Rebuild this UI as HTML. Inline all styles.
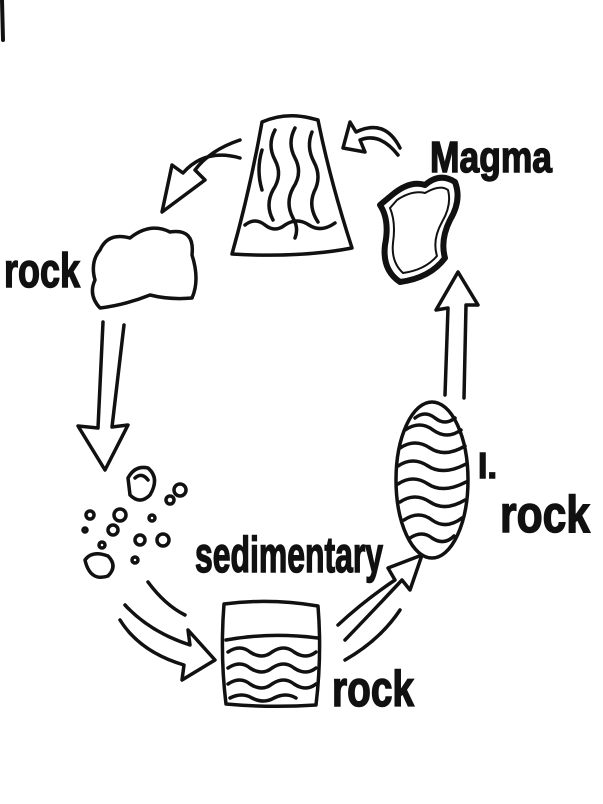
<!DOCTYPE html>
<html><head><meta charset="utf-8"><style>
html,body{margin:0;padding:0;background:#fff;}
svg{display:block;}
text{font-family:"Liberation Sans Narrow","Liberation Sans",sans-serif;font-weight:bold;fill:#111;stroke:#111;stroke-width:1.5;}
</style></head><body>
<svg width="603" height="804" viewBox="0 0 603 804" xmlns="http://www.w3.org/2000/svg">
<g fill="none" stroke="#111" stroke-width="3.5" stroke-linecap="round" stroke-linejoin="round">
<path d="M2 0 L3 40" stroke-width="4"/>
<path d="M262 122 Q285 112 310 118 L318 120 Q330 180 352 248 Q300 258 232 254 Q250 190 262 122 Z"/>
<path d="M275 130 q-8 15 0 30 q8 15 -2 30 q-8 15 0 30"/>
<path d="M295 128 q-8 15 0 30 q8 15 -2 30 q-8 15 0 30 q6 10 2 20"/>
<path d="M312 132 q-6 15 2 30 q8 15 0 30 q-6 15 4 30"/>
<path d="M262 150 q-6 20 0 40"/>
<path d="M245 225 q10 -8 20 0 q10 8 20 0 q12 -8 24 0 q12 8 26 -2"/>
<path d="M240 140 Q210 150 195 170 L205 180 L162 212 L172 165 L183 173 Q205 148 240 158"/>
<path d="M398 155 Q380 132 360 140 L365 152 L343 148 L350 122 L356 132 Q385 118 400 148"/>
<path d="M392 195 Q410 180 425 185 Q440 172 455 182 Q462 200 450 220 Q440 240 445 258 Q430 278 400 282 Q382 270 385 245 Q390 220 380 205 Z" stroke-width="6"/>
<path d="M397 200 Q412 190 425 193 Q440 184 448 190 Q452 205 442 222 Q432 240 437 256 Q425 270 403 273 Q391 262 393 243 Q396 222 390 208 Z" stroke-width="2"/>
<path d="M100 250 Q108 232 130 238 Q150 222 170 232 Q195 228 192 255 Q200 280 192 298 Q170 300 150 295 Q125 305 100 308 Q88 295 95 280 Q90 262 100 250 Z"/>
<path d="M103 322 L98 428 L78 426 L105 470 L128 425 L112 427 L124 325"/>
<path d="M128 478 Q135 465 148 468 Q160 478 150 495 Q140 505 130 495 Z"/>
<path d="M135 478 Q142 472 148 480"/>
<path d="M85 560 Q92 550 108 556 Q118 566 108 576 Q90 582 85 560 Z"/>
<circle cx="90" cy="515" r="4"/><circle cx="120" cy="515" r="6"/><circle cx="113" cy="530" r="5"/>
<circle cx="140" cy="540" r="5"/><circle cx="163" cy="540" r="6"/><circle cx="152" cy="518" r="3"/>
<circle cx="135" cy="560" r="3"/><circle cx="180" cy="490" r="6"/><circle cx="170" cy="500" r="4"/>
<circle cx="102" cy="545" r="3"/><circle cx="85" cy="530" r="2"/>
<path d="M125 605 Q150 632 190 645 L188 630 L215 660 L182 680 L184 665 Q140 652 120 620"/>
<path d="M148 582 Q165 605 185 615"/>
<path d="M224 604 Q270 598 318 606 Q322 655 316 705 Q270 708 226 704 Q220 655 224 604 Z"/>
<path d="M226 640 Q270 632 318 638"/>
<path d="M228 652 q12 -8 22 0 q12 8 22 0 q12 -8 22 0 q12 8 22 0"/>
<path d="M228 668 q12 -8 22 0 q12 8 22 0 q12 -8 22 0 q12 8 22 0"/>
<path d="M228 684 q12 -8 22 0 q12 8 22 0 q12 -8 22 0 q12 8 22 0"/>
<path d="M230 698 q12 -6 22 0 q12 6 22 0 q12 -6 22 0"/>
<path d="M338 625 Q365 600 395 580 L388 568 L422 555 L410 590 L402 580 Q372 612 345 640"/>
<path d="M345 660 Q380 640 400 610"/>
<ellipse cx="432" cy="480" rx="36" ry="78"/>
<path d="M405 430 q15 -10 28 0 q14 10 28 0"/>
<path d="M400 448 q15 -10 30 0 q15 10 35 -2"/>
<path d="M398 466 q15 -10 30 0 q15 10 38 -2"/>
<path d="M398 484 q15 -10 30 0 q15 10 38 -2"/>
<path d="M400 502 q15 -10 30 0 q15 10 35 -2"/>
<path d="M404 520 q15 -10 28 0 q14 10 30 -2"/>
<path d="M410 538 q12 -8 22 0 q12 8 22 -2"/>
<path d="M415 418 q10 -8 20 0 q10 8 20 0"/>
<path d="M445 395 L448 308 L436 310 L458 272 L478 305 L466 305 L464 398"/>
</g>
<text x="430" y="172" font-size="44" textLength="122" lengthAdjust="spacingAndGlyphs">Magma</text>
<text x="4" y="287" font-size="48" textLength="76" lengthAdjust="spacingAndGlyphs">rock</text>
<text x="195" y="572" font-size="50" textLength="188" lengthAdjust="spacingAndGlyphs">sedimentary</text>
<text x="332" y="706" font-size="50" textLength="82" lengthAdjust="spacingAndGlyphs">rock</text>
<text x="478" y="478" font-size="34">l.</text>
<text x="500" y="532" font-size="52" textLength="90" lengthAdjust="spacingAndGlyphs">rock</text>
</svg>
</body></html>
